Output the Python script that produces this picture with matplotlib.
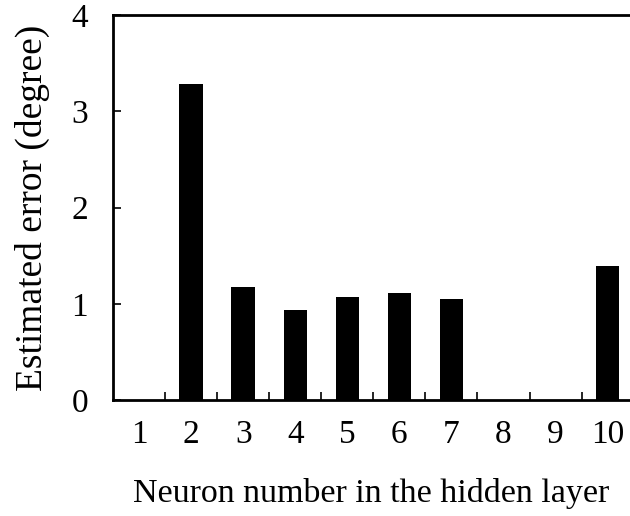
import matplotlib
matplotlib.use("Agg")
import matplotlib.pyplot as plt
import numpy as np

neurons = [1, 2, 3, 4, 5, 6, 7, 8, 9, 10]
errors = [0.0, 3.28, 1.17, 0.93, 1.07, 1.11, 1.05, 0.0, 0.0, 1.39]
y_ticks = [0, 1, 2, 3, 4]

plt.rcParams['font.family'] = ['Liberation Serif', 'DejaVu Serif']

fig = plt.figure(figsize=(6.3, 5.16), dpi=100)
ax = fig.add_axes([113/630, 1 - 400/516, 1 - 113/630, (400 - 15)/516])

ax.bar(neurons, errors, width=0.45, color='black')

ax.set_xlim(0.5, 10.43)
ax.set_ylim(0, 4)
ax.set_yticks(y_ticks)
ax.set_xticks(neurons)
ax.set_xticks(np.arange(1.5, 10, 1), minor=True)

ax.tick_params(axis='x', which='major', length=0, pad=14, labelsize=24)
ax.tick_params(axis='x', which='minor', direction='in', length=6, width=1.2)
ax.tick_params(axis='y', which='major', direction='in', length=6, width=1.2, pad=18, labelsize=24)

for s in ['left', 'bottom', 'top']:
    ax.spines[s].set_linewidth(2)
ax.spines['right'].set_visible(False)

ax.set_ylabel('Estimated error (degree)', fontsize=27, labelpad=15)
ax.set_xlabel('Neuron number in the hidden layer', fontsize=24.5, labelpad=20)

fig.savefig('out.png', dpi=100)
